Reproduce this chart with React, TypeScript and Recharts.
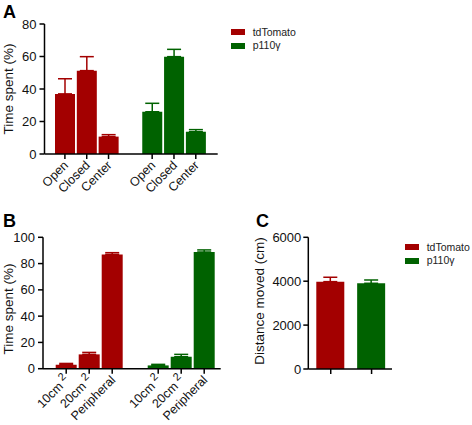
import React from 'react';
import { BarChart, Bar, XAxis, YAxis, ErrorBar, Legend } from 'recharts';

const FONT = '"Liberation Sans", Arial, Helvetica, sans-serif';
const RED = '#A30000';
const GREEN = '#006200';
const INK = '#111';

// Series
const seriesNames = ['tdTomato', 'p110γ'];
const seriesColors = [RED, GREEN];

// Panel A — elevated plus maze
const zonesA = ['Open', 'Closed', 'Center'];
const tdTomatoA = [37, 51.3, 10.7];
const tdTomatoErrA = [9.3, 8.6, 1.2];
const p110A = [26, 59.9, 13.7];
const p110ErrA = [5.2, 4.5, 1.3];
const yTicksA = [0, 20, 40, 60, 80];

// Panel B — open field zones
const zonesB = ['10cm²', '20cm²', 'Peripheral'];
const tdTomatoB = [3.0, 10.9, 87.0];
const tdTomatoErrB = [1.0, 1.5, 1.3];
const p110B = [2.5, 9.1, 88.8];
const p110ErrB = [0.8, 1.8, 1.6];
const yTicksB = [0, 20, 40, 60, 80, 100];

// Panel C — distance moved
const groupsC = ['tdTomato', 'p110γ'];
const distanceC = [3980, 3905];
const distanceErrC = [200, 150];
const yTicksC = [0, 2000, 4000, 6000];

type Row = { label: string; tdTomato?: number; tdErr?: number[]; p110?: number; pErr?: number[] };

const buildRows = (cats: string[], td: number[], tdE: number[], p: number[], pE: number[]): Row[] => [
  ...cats.map((c, i) => ({ label: c, tdTomato: td[i], tdErr: [0, tdE[i]] })),
  { label: '' },
  ...cats.map((c, i) => ({ label: c, p110: p[i], pErr: [0, pE[i]] })),
];

const rowsA = buildRows(zonesA, tdTomatoA, tdTomatoErrA, p110A, p110ErrA);
const rowsB = buildRows(zonesB, tdTomatoB, tdTomatoErrB, p110B, p110ErrB);
const rowsC: Row[] = [
  { label: groupsC[0], tdTomato: distanceC[0], tdErr: [0, distanceErrC[0]] },
  { label: groupsC[1], p110: distanceC[1], pErr: [0, distanceErrC[1]] },
];

const makeXTick = (showLabel: boolean) => (props: any) => {
  const { x, y, payload } = props;
  const label = String(payload && payload.value != null ? payload.value : '');
  if (!label) return <g />;
  const sup = label.endsWith('²');
  return (
    <g transform={`translate(${x},${y})`}>
      <line x1={0} y1={0} x2={0} y2={5} stroke="#000" strokeWidth={1.5} />
      {showLabel && (
        <text
          transform="translate(4,12) rotate(-45)"
          textAnchor="end"
          fontSize={12.5}
          fill={INK}
          fontFamily={FONT}
        >
          {sup ? (
            <>
              <tspan>{label.slice(0, -1)}</tspan>
              <tspan dx={3} dy={-5} fontSize={11}>2</tspan>
            </>
          ) : (
            label
          )}
        </text>
      )}
    </g>
  );
};

const yTitle = (text: string, x: number, y: number, size: number) => () => (
  <text
    x={x}
    y={y}
    transform={`rotate(-90 ${x} ${y})`}
    textAnchor="middle"
    fontSize={size}
    fill={INK}
    fontFamily={FONT}
  >
    {text}
  </text>
);

const renderLegend = () => (
  <div style={{ fontFamily: FONT }}>
    {seriesNames.map((n, i) => (
      <div key={n} style={{ display: 'flex', alignItems: 'center', height: 13.4 }}>
        <span
          style={{ display: 'inline-block', width: 14, height: 6, background: seriesColors[i], marginRight: 7.7 }}
        />
        <span style={{ fontSize: 10.5, lineHeight: 1, color: '#222' }}>{n}</span>
      </div>
    ))}
  </div>
);

const axisLine = { stroke: '#000', strokeWidth: 1.5 };
const tickStyle = { fontSize: 13, fill: INK, fontFamily: FONT };

const panelLetter = (t: string, left: number, top: number) => (
  <div
    style={{
      position: 'absolute',
      left,
      top,
      fontFamily: FONT,
      fontWeight: 'bold',
      fontSize: 18,
      lineHeight: 1,
      color: '#000',
    }}
  >
    {t}
  </div>
);

export default function App() {
  return (
    <div
      style={{
        position: 'absolute',
        left: 0,
        top: 0,
        width: 472,
        height: 425,
        background: '#fff',
        overflow: 'hidden',
      }}
    >
      {/* Panel A */}
      <div style={{ position: 'absolute', left: 0, top: 0 }}>
        <BarChart
          width={320}
          height={210}
          data={rowsA}
          margin={{ top: 24, right: 102.3, left: 0, bottom: 0 }}
        >
          <XAxis
            dataKey="label"
            height={56}
            padding={{ left: 9.5, right: 11 }}
            axisLine={axisLine}
            tickLine={false}
            tickSize={0}
            tickMargin={0}
            interval={0}
            tick={makeXTick(true)}
          />
          <YAxis
            width={44.5}
            domain={[0, 80]}
            ticks={yTicksA}
            axisLine={axisLine}
            tickLine={axisLine}
            tickSize={5}
            tickMargin={3}
            tick={tickStyle}
            label={yTitle('Time spent (%)', 13.3, 89, 13.5)}
          />
          <Legend
            layout="vertical"
            align="center"
            verticalAlign="middle"
            content={renderLegend}
            wrapperStyle={{ left: 231, top: 25.6, width: 90 }}
          />
          <Bar dataKey="tdTomato" name={seriesNames[0]} stackId="s" fill={RED} barSize={20} isAnimationActive={false}>
            <ErrorBar dataKey="tdErr" direction="y" width={7} strokeWidth={1.5} stroke={RED} isAnimationActive={false} />
          </Bar>
          <Bar dataKey="p110" name={seriesNames[1]} stackId="s" fill={GREEN} barSize={20} isAnimationActive={false}>
            <ErrorBar dataKey="pErr" direction="y" width={7} strokeWidth={1.5} stroke={GREEN} isAnimationActive={false} />
          </Bar>
        </BarChart>
      </div>

      {/* Panel B */}
      <div style={{ position: 'absolute', left: 0, top: 210 }}>
        <BarChart
          width={240}
          height={215}
          data={rowsB}
          margin={{ top: 27.3, right: 19.3, left: 0, bottom: 0 }}
        >
          <XAxis
            dataKey="label"
            height={56.3}
            padding={{ left: 11.7, right: 5 }}
            axisLine={axisLine}
            tickLine={false}
            tickSize={0}
            tickMargin={0}
            interval={0}
            tick={makeXTick(true)}
          />
          <YAxis
            width={43}
            domain={[0, 100]}
            ticks={yTicksB}
            axisLine={axisLine}
            tickLine={axisLine}
            tickSize={5}
            tickMargin={3}
            tick={tickStyle}
            label={yTitle('Time spent (%)', 13.3, 99, 13.5)}
          />
          <Bar dataKey="tdTomato" name={seriesNames[0]} stackId="s" fill={RED} barSize={21} isAnimationActive={false}>
            <ErrorBar dataKey="tdErr" direction="y" width={7} strokeWidth={1.5} stroke={RED} isAnimationActive={false} />
          </Bar>
          <Bar dataKey="p110" name={seriesNames[1]} stackId="s" fill={GREEN} barSize={21} isAnimationActive={false}>
            <ErrorBar dataKey="pErr" direction="y" width={7} strokeWidth={1.5} stroke={GREEN} isAnimationActive={false} />
          </Bar>
        </BarChart>
      </div>

      {/* Panel C */}
      <div style={{ position: 'absolute', left: 240, top: 210 }}>
        <BarChart
          width={232}
          height={215}
          data={rowsC}
          margin={{ top: 27.3, right: 80, left: 0, bottom: 0 }}
        >
          <XAxis
            dataKey="label"
            height={56}
            padding={{ left: 2, right: 0 }}
            axisLine={axisLine}
            tickLine={false}
            tickSize={0}
            tickMargin={0}
            interval={0}
            tick={makeXTick(false)}
          />
          <YAxis
            width={68.3}
            domain={[0, 6000]}
            ticks={yTicksC}
            axisLine={axisLine}
            tickLine={axisLine}
            tickSize={5}
            tickMargin={2}
            tick={tickStyle}
            label={yTitle('Distance moved (cm)', 24, 91, 13.5)}
          />
          <Legend
            layout="vertical"
            align="center"
            verticalAlign="middle"
            content={renderLegend}
            wrapperStyle={{ left: 165, top: 30.6, width: 70 }}
          />
          <Bar dataKey="tdTomato" name={seriesNames[0]} stackId="s" fill={RED} barSize={28} isAnimationActive={false}>
            <ErrorBar dataKey="tdErr" direction="y" width={7} strokeWidth={1.5} stroke={RED} isAnimationActive={false} />
          </Bar>
          <Bar dataKey="p110" name={seriesNames[1]} stackId="s" fill={GREEN} barSize={28} isAnimationActive={false}>
            <ErrorBar dataKey="pErr" direction="y" width={7} strokeWidth={1.5} stroke={GREEN} isAnimationActive={false} />
          </Bar>
        </BarChart>
      </div>

      {panelLetter('A', 3, 2.6)}
      {panelLetter('B', 3, 211.6)}
      {panelLetter('C', 256, 211.6)}
    </div>
  );
}
